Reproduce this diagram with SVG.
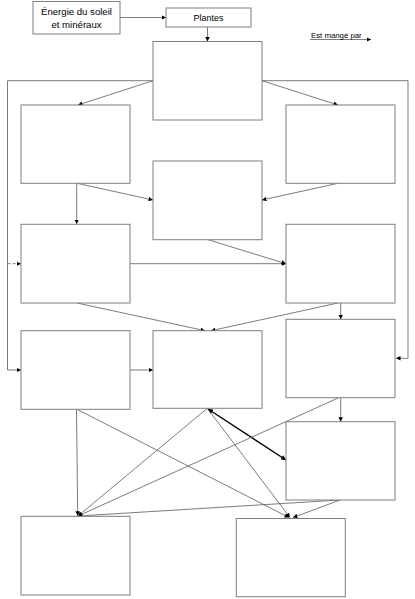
<svg xmlns="http://www.w3.org/2000/svg" width="415" height="599" viewBox="0 0 415 599">
<style>
.box{fill:#fff;stroke:#7f7f7f;stroke-width:1}
.ln{fill:none;stroke:#5a5a5a;stroke-width:0.8}
.lbl{font-family:"Liberation Sans",Arial,sans-serif;fill:#000;text-anchor:middle}
</style>
<defs>
<marker id="ah" viewBox="0 0 6 6" refX="6" refY="3" markerWidth="4.5" markerHeight="4.5" markerUnits="userSpaceOnUse" orient="auto"><path d="M0,0 L6,3 L0,6 z" fill="#000"/></marker>
<marker id="ah2" viewBox="0 0 6 6" refX="6" refY="3" markerWidth="5" markerHeight="5" markerUnits="userSpaceOnUse" orient="auto-start-reverse"><path d="M0,0 L6,3 L0,6 z" fill="#000"/></marker>
</defs>
<rect width="415" height="599" fill="#fff"/>
<g id="connectors">
<line class="ln" x1="120" y1="17.5" x2="166" y2="17.5" marker-end="url(#ah)"/>
<line class="ln" x1="207.5" y1="27" x2="207.5" y2="41.5" marker-end="url(#ah)"/>
<line class="ln" x1="310" y1="39.5" x2="371" y2="39.5" marker-end="url(#ah)"/>
<path class="ln" d="M153,80.7 H7.5 V370 H21" marker-end="url(#ah)"/>
<line class="ln" x1="7.5" y1="263.7" x2="21" y2="263.7" stroke-dasharray="3,2" marker-end="url(#ah)"/>
<path class="ln" d="M262,80.7 H408 V358.3 H396" marker-end="url(#ah)"/>
<line class="ln" x1="153" y1="80.7" x2="78" y2="105" marker-end="url(#ah)"/>
<line class="ln" x1="262" y1="80.7" x2="338" y2="105" marker-end="url(#ah)"/>
<line class="ln" x1="77" y1="183.3" x2="153" y2="200" marker-end="url(#ah)"/>
<line class="ln" x1="338" y1="183.3" x2="262" y2="200" marker-end="url(#ah)"/>
<line class="ln" x1="76.7" y1="183.3" x2="76.7" y2="224" marker-end="url(#ah)"/>
<line class="ln" x1="130" y1="263.7" x2="286" y2="263.7" marker-end="url(#ah)"/>
<line class="ln" x1="208" y1="239.7" x2="286" y2="263.7" marker-end="url(#ah)"/>
<line class="ln" x1="77" y1="303" x2="205" y2="330.7" marker-end="url(#ah)"/>
<line class="ln" x1="338" y1="303" x2="211" y2="330.7" marker-end="url(#ah)"/>
<line class="ln" x1="340.7" y1="303" x2="340.7" y2="319.3" marker-end="url(#ah)"/>
<line class="ln" x1="130" y1="370" x2="153" y2="370" marker-end="url(#ah)"/>
<line class="ln" x1="340.7" y1="397.7" x2="340.7" y2="421.7" marker-end="url(#ah)"/>
<line class="ln" x1="76.5" y1="409.3" x2="77.7" y2="515.7" marker-end="url(#ah)"/>
<line class="ln" x1="77" y1="409.3" x2="289" y2="517.5" marker-end="url(#ah)"/>
<line class="ln" x1="207.3" y1="408.3" x2="78" y2="516" marker-end="url(#ah)"/>
<line class="ln" x1="207.3" y1="408.3" x2="290" y2="517.5" marker-end="url(#ah)"/>
<line x1="208" y1="409" x2="286" y2="460" stroke="#000" stroke-width="1.4" marker-start="url(#ah2)" marker-end="url(#ah2)"/>
<line class="ln" x1="338" y1="398" x2="78" y2="516" marker-end="url(#ah)"/>
<line class="ln" x1="340" y1="500" x2="78" y2="516" marker-end="url(#ah)"/>
<line class="ln" x1="340" y1="500" x2="293" y2="517.5" marker-end="url(#ah)"/>
</g>
<g id="energie"><rect class="box" x="33" y="1.5" width="87" height="32.5"/>
<text class="lbl" x="76.5" y="15" font-size="9.6">Énergie du soleil</text>
<text class="lbl" x="76.5" y="28" font-size="9.6">et minéraux</text></g>
<g id="plantes"><rect class="box" x="166" y="8" width="85" height="19"/>
<text class="lbl" x="208.5" y="21" font-size="9">Plantes</text></g>
<g id="legend"><text x="311" y="37.5" font-size="7.8" font-family="Liberation Sans, Arial, sans-serif" fill="#000">Est mangé par</text></g>
<g id="A"><rect class="box" x="153" y="41.5" width="109" height="78.5"/></g>
<g id="B"><rect class="box" x="21" y="105" width="109" height="78.3"/></g>
<g id="C"><rect class="box" x="286" y="105" width="109" height="78.3"/></g>
<g id="D"><rect class="box" x="153" y="161" width="109" height="78.7"/></g>
<g id="E"><rect class="box" x="21" y="224.3" width="109" height="78.7"/></g>
<g id="F"><rect class="box" x="286" y="224.3" width="109" height="78.7"/></g>
<g id="G"><rect class="box" x="21" y="330.7" width="109" height="78.6"/></g>
<g id="H"><rect class="box" x="153" y="330.7" width="109" height="77.6"/></g>
<g id="I"><rect class="box" x="286" y="319.3" width="109" height="78.4"/></g>
<g id="J"><rect class="box" x="286" y="421.7" width="109" height="78.3"/></g>
<g id="K"><rect class="box" x="21" y="516.3" width="109" height="78.7"/></g>
<g id="L"><rect class="box" x="236.3" y="518.5" width="109" height="78.2"/></g>
</svg>
